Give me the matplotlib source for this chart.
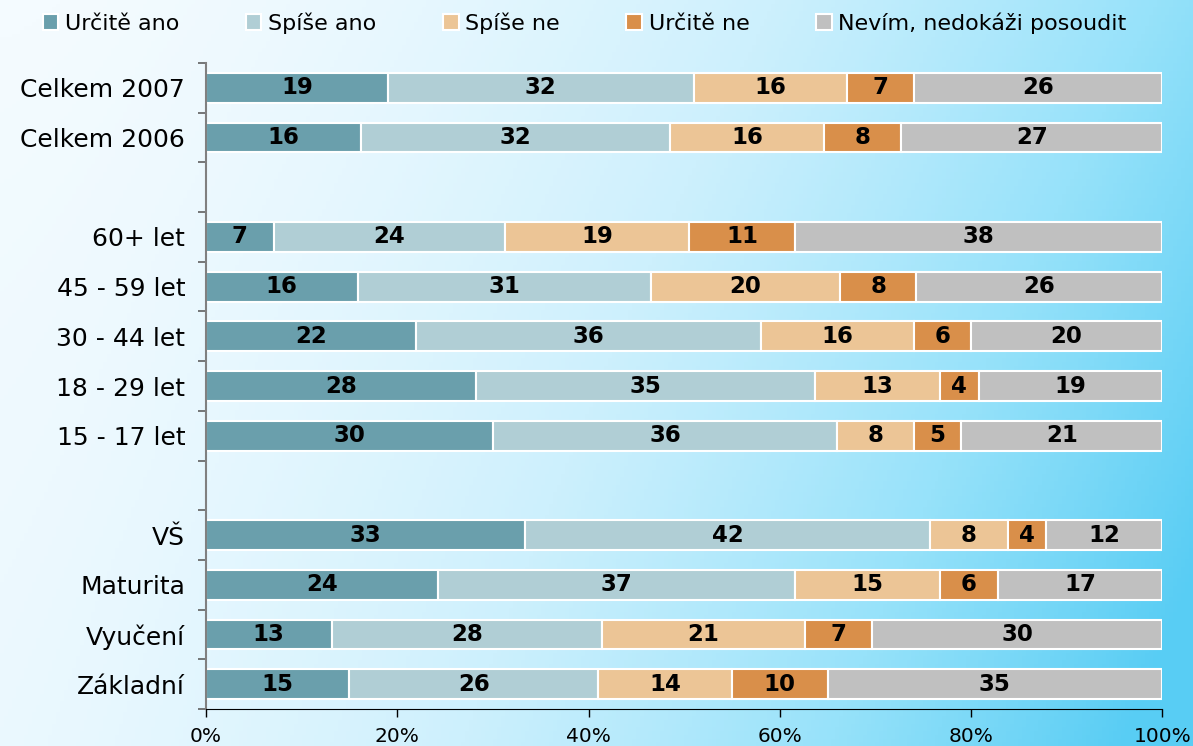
import matplotlib

matplotlib.use("Agg")
import matplotlib.pyplot as plt
import numpy as np
from matplotlib.colors import LinearSegmentedColormap

categories = [
    "Celkem 2007", "Celkem 2006", "",
    "60+ let", "45 - 59 let", "30 - 44 let", "18 - 29 let", "15 - 17 let", "",
    "VŠ", "Maturita", "Vyučení", "Základní",
]
series_names = ["Určitě ano", "Spíše ano", "Spíše ne", "Určitě ne", "Nevím, nedokáži posoudit"]

# None marks the empty spacer rows
urcite_ano = [19, 16, None, 7, 16, 22, 28, 30, None, 33, 24, 13, 15]
spise_ano = [32, 32, None, 24, 31, 36, 35, 36, None, 42, 37, 28, 26]
spise_ne = [16, 16, None, 19, 20, 16, 13, 8, None, 8, 15, 21, 14]
urcite_ne = [7, 8, None, 11, 8, 6, 4, 5, None, 4, 6, 7, 10]
nevim = [26, 27, None, 38, 26, 20, 19, 21, None, 12, 17, 30, 35]

colors = ["#6a9fac", "#b0ced5", "#ecc596", "#d98f4a", "#c0c0c0"]
x_ticks = [0, 20, 40, 60, 80, 100]

fig = plt.figure(figsize=(11.93, 7.46), dpi=100)

# background gradient: pale at top-left, cyan toward bottom-right
bg = fig.add_axes([0, 0, 1, 1], zorder=-10)
u, v = np.meshgrid(np.linspace(0, 1, 300), np.linspace(0, 1, 200))
t = np.clip(0.7 * u ** 1.7 + 0.3 * v * u + 0.08 * v, 0, 1)
cmap = LinearSegmentedColormap.from_list("bg", ["#f4fbff", "#cdf0fd", "#97e2fa", "#58cdf4"])
bg.imshow(t, cmap=cmap, aspect="auto", extent=[0, 1, 0, 1], origin="upper")
bg.axis("off")

ax = fig.add_axes([0.1727, 0.0496, 0.8015, 0.8659])
ax.patch.set_alpha(0)

series = [urcite_ano, spise_ano, spise_ne, urcite_ne, nevim]
n = len(categories)
y = np.arange(n)
for i in range(n):
    if urcite_ano[i] is None:
        continue
    vals = np.array([s[i] for s in series], dtype=float)
    widths = vals / vals.sum() * 100
    left = 0.0
    for k, (w, raw) in enumerate(zip(widths, vals)):
        ax.barh(y[i], w, left=left, height=0.6, color=colors[k],
                edgecolor="white", linewidth=1.5,
                label=series_names[k] if i == 0 else None)
        ax.text(left + w / 2, y[i], f"{int(raw)}", ha="center", va="center",
                fontsize=16.5, fontweight="bold", color="black")
        left += w

ax.set_xlim(0, 100)
ax.set_ylim(n - 0.5, -0.5)
ax.set_yticks(y)
ax.set_yticklabels(categories, fontsize=18)
ax.set_yticks(np.arange(-0.5, n, 1), minor=True)
ax.tick_params(axis="y", which="major", length=0, pad=15)
ax.tick_params(axis="y", which="minor", length=6, color="#606060", width=1.2)
ax.set_xticks(x_ticks)
ax.set_xticklabels([f"{v}%" for v in x_ticks], fontsize=14.5)
ax.tick_params(axis="x", length=6, width=1, pad=7)
for s in ["top", "right"]:
    ax.spines[s].set_visible(False)
ax.spines["left"].set_color("#808080")
ax.spines["left"].set_linewidth(1.5)
ax.spines["bottom"].set_color("black")

fig.legend(loc="upper center", bbox_to_anchor=(0.49, 1.01), ncol=5,
           frameon=False, fontsize=16, handlelength=0.7, handleheight=0.7,
           handletextpad=0.3, columnspacing=3.0)

fig.savefig("out.png", dpi=100)
